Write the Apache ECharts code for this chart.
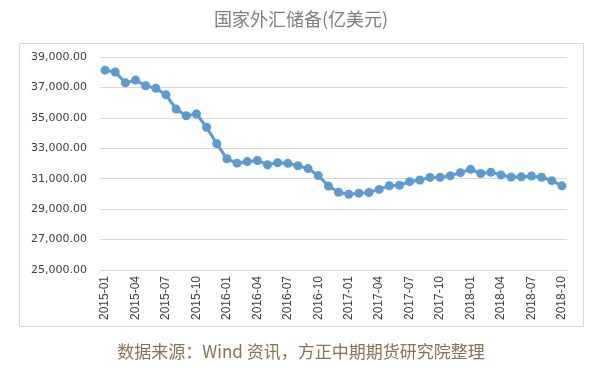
<!DOCTYPE html>
<html>
<head>
<meta charset="utf-8">
<script src="https://cdn.jsdelivr.net/npm/echarts@6/dist/echarts.min.js"></script>
<style>html,body{margin:0;padding:0;background:#fff}#c{width:602px;height:370px}</style>
</head>
<body>
<div id="c"></div>
<script>
const months = ["2015-01","2015-02","2015-03","2015-04","2015-05","2015-06","2015-07","2015-08","2015-09","2015-10","2015-11","2015-12",
"2016-01","2016-02","2016-03","2016-04","2016-05","2016-06","2016-07","2016-08","2016-09","2016-10","2016-11","2016-12",
"2017-01","2017-02","2017-03","2017-04","2017-05","2017-06","2017-07","2017-08","2017-09","2017-10","2017-11","2017-12",
"2018-01","2018-02","2018-03","2018-04","2018-05","2018-06","2018-07","2018-08","2018-09","2018-10"];
const reserves = [38134,38015,37301,37481,37111,36938,36513,35574,35141,35255,34383,33304,
32309,32023,32126,32197,31917,32052,32011,31852,31664,31206,30516,30105,
29982,30051,30091,30295,30536,30568,30807,30915,31085,31093,31193,31399,
31615,31345,31428,31249,31106,31121,31179,31097,30870,30531];
const yMin = 25000, yMax = 39000, yStep = 2000;
const titleText = "国家外汇储备(亿美元)";
const sourceText = "数据来源：Wind 资讯，方正中期期货研究院整理";

function fmt(v){
  return v.toLocaleString('en-US',{minimumFractionDigits:2,maximumFractionDigits:2});
}
const chart = echarts.init(document.getElementById('c'));
chart.setOption({
  animation:false,
  backgroundColor:'#fff',
  graphic:[
    {type:'rect',shape:{x:19.5,y:43.5,width:564,height:283},style:{fill:'none',stroke:'#d9d9d9',lineWidth:1},z:-1},
    {type:'text',left:'center',top:343,style:{text:sourceText,font:'17px "Noto Sans CJK SC"',fill:'#8a7350'}}
  ],
  title:{text:titleText,left:'center',top:5,textStyle:{fontFamily:'"Noto Sans CJK SC"',fontSize:18,fontWeight:'normal',color:'#808080'}},
  grid:{left:100,right:35,top:57,bottom:100,containLabel:false},
  xAxis:{
    type:'category',data:months,boundaryGap:true,
    axisLine:{lineStyle:{color:'#d9d9d9'}},
    axisTick:{interval:2,length:5,lineStyle:{color:'#d9d9d9'}},
    axisLabel:{interval:2,rotate:90,color:'#404040',fontFamily:'"Liberation Sans"',fontSize:12,margin:6}
  },
  yAxis:{
    type:'value',min:yMin,max:yMax,interval:yStep,
    axisLine:{show:false},axisTick:{show:false},
    splitLine:{lineStyle:{color:'#d9d9d9'}},
    axisLabel:{formatter:fmt,color:'#404040',fontFamily:'"DejaVu Sans"',fontSize:11,margin:13}
  },
  series:[{
    type:'line',data:reserves,symbol:'circle',symbolSize:9,showAllSymbol:true,
    lineStyle:{color:'#5b9bd5',width:3},
    itemStyle:{color:'#5b9bd5'}
  }]
});
</script>
</body>
</html>
